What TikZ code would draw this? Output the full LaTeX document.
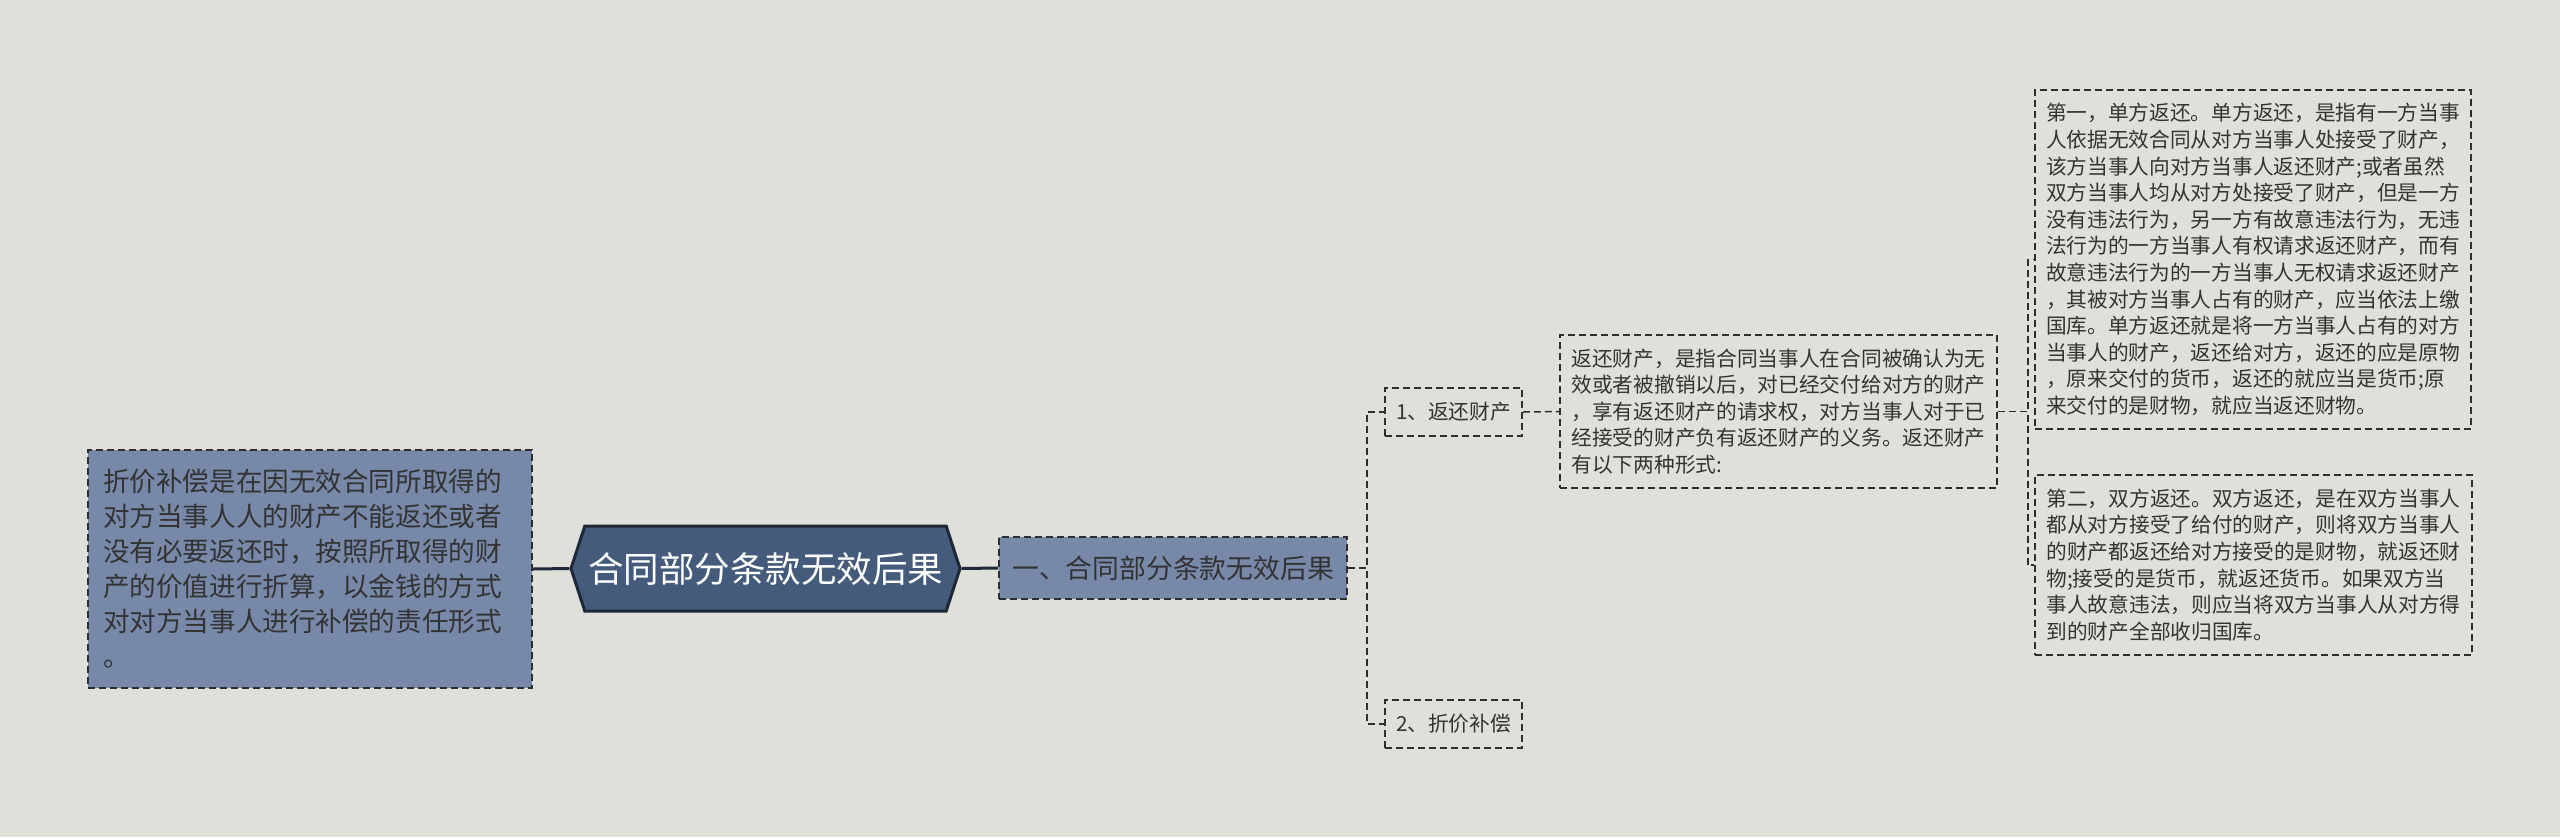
\documentclass[tikz,border=0pt]{standalone}
\usepackage{fontspec}
\setmainfont{Noto Sans CJK SC}
\usetikzlibrary{shapes.symbols}
\usepackage{xcolor}
\definecolor{bgcol}{HTML}{E0E0DB}
\definecolor{rootcol}{HTML}{455B7B}
\definecolor{edgecol}{HTML}{1E2838}
\definecolor{boxcol}{HTML}{7788A8}
\definecolor{linecol}{HTML}{2E2E2E}
\definecolor{txtcol}{HTML}{333333}

\begin{document}
\begin{tikzpicture}[
        x=0.5pt, y=-0.5pt,
        box/.style={
            rectangle,
            draw=linecol,
            line width=0.75pt,
            dash pattern=on 3.5pt off 2pt,
            text=txtcol,
            align=left
        },
        small/.style={
            font=\fontsize{10.35pt}{13.3pt}\selectfont
        },
        link/.style={draw=linecol, line width=0.75pt, dash pattern=on 3.5pt off 2pt},
        trunk/.style={draw=edgecol, line width=1.5pt}
    ]
        \fill[bgcol] (0,0) rectangle (2560,837);
        \useasboundingbox (0,0) rectangle (2560,837);

        \node (root) [
            signal,
            signal to=west and east,
            signal pointer angle=144,
            fill=rootcol,
            draw=edgecol,
            line width=1.5pt,
            minimum width=194.5pt,
            minimum height=42.5pt,
            inner sep=0pt,
            text=white,
            font=\fontsize{17.75pt}{20pt}\selectfont
        ] at (765.5,568.5) {合同部分条款无效后果};

        \node (left) [
            box,
            fill=boxcol,
            text width=207pt,
            inner xsep=7.5pt,
            minimum height=119pt,
            font=\fontsize{13.3pt}{17.5pt}\selectfont
        ] at (310,569)
        {
            折价补偿是在因无效合同所取得的\\
            对方当事人人的财产不能返还或者\\
            没有必要返还时，按照所取得的财\\
            产的价值进行折算，以金钱的方式\\
            对对方当事人进行补偿的责任形式\\
            。
        };

        \node (lv1) [
            box,
            fill=boxcol,
            minimum width=174pt,
            minimum height=31pt,
            inner sep=0pt,
            font=\fontsize{13.4pt}{16pt}\selectfont
        ] at (1173,568) {一、合同部分条款无效后果};

        \node (fanhuan) [
            box,
            small,
            minimum width=68.5pt,
            minimum height=24pt,
            inner sep=0pt
        ] at (1453.5,412) {1、返还财产};

        \node (zhejia) [
            box,
            small,
            minimum width=68.5pt,
            minimum height=24pt,
            inner sep=0pt
        ] at (1453.5,724) {2、折价补偿};

        \node (desc) [
            box,
            small,
            text width=207pt,
            inner xsep=5.75pt,
            minimum height=76.5pt
        ] at (1778.5,411.5)
        {
            返还财产，是指合同当事人在合同被确认为无\\
            效或者被撤销以后，对已经交付给对方的财产\\
            ，享有返还财产的请求权，对方当事人对于已\\
            经接受的财产负有返还财产的义务。返还财产\\
            有以下两种形式:
        };

        \node (dan) [
            box,
            small,
            text width=207pt,
            inner xsep=5.5pt,
            minimum height=169.5pt
        ] at (2253,259.5)
        {
            第一，单方返还。单方返还，是指有一方当事\\
            人依据无效合同从对方当事人处接受了财产，\\
            该方当事人向对方当事人返还财产;或者虽然\\
            双方当事人均从对方处接受了财产，但是一方\\
            没有违法行为，另一方有故意违法行为，无违\\
            法行为的一方当事人有权请求返还财产，而有\\
            故意违法行为的一方当事人无权请求返还财产\\
            ，其被对方当事人占有的财产，应当依法上缴\\
            国库。单方返还就是将一方当事人占有的对方\\
            当事人的财产，返还给对方，返还的应是原物\\
            ，原来交付的货币，返还的就应当是货币;原\\
            来交付的是财物，就应当返还财物。
        };

        \node (shuang) [
            box,
            small,
            text width=207pt,
            inner xsep=5.75pt,
            minimum height=90pt
        ] at (2253.5,565)
        {
            第二，双方返还。双方返还，是在双方当事人\\
            都从对方接受了给付的财产，则将双方当事人\\
            的财产都返还给对方接受的是财物，就返还财\\
            物;接受的是货币，就返还货币。如果双方当\\
            事人故意违法，则应当将双方当事人从对方得\\
            到的财产全部收归国库。
        };

        \draw[trunk] (left.east) -- (root.west);
        \draw[trunk] (root.east) -- (lv1.west);
        \draw[link] (lv1.east) -- ++(19,0) |- (fanhuan.west);
        \draw[link] (lv1.east) -- ++(19,0) |- (zhejia.west);
        \draw[link] (fanhuan.east) -- (desc.west);
        \draw[link] (desc.east) -- ++(30,0) |- (dan.west);
        \draw[link] (desc.east) -- ++(30,0) |- (shuang.west);
    \end{tikzpicture}
\end{document}
